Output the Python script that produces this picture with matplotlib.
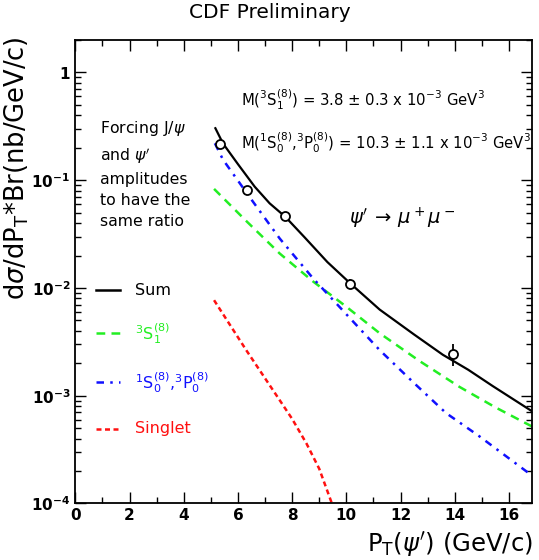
import numpy as np
import matplotlib
matplotlib.use("Agg")
import matplotlib.pyplot as plt
from matplotlib.ticker import FixedLocator, FuncFormatter, LogLocator, NullFormatter

# measured points
pt_data = [5.33, 6.34, 7.75, 10.15, 13.93]
xsec_data = [0.215, 0.081, 0.0465, 0.0109, 0.00244]
err_up = [0.010, 0.004, 0.002, 0.0012, 0.00058]
err_dn = [0.010, 0.004, 0.002, 0.0009, 0.00054]

# theory curves
pt_sum = [5.15, 5.45, 6.0, 6.62, 7.17, 7.75, 8.46, 9.3, 10.15, 11.23, 12.5, 13.56, 14.5, 15.4, 16.88]
xs_sum = [0.31, 0.219, 0.141, 0.087, 0.061, 0.0457, 0.0295, 0.0174, 0.0110, 0.0063, 0.0037, 0.0024, 0.00174, 0.00123, 0.00071]

pt_s1 = [5.12, 6.3, 7.54, 8.77, 10.0, 11.23, 12.7, 14.17, 15.5, 16.84]
xs_s1 = [0.083, 0.042, 0.0209, 0.0115, 0.0067, 0.0038, 0.0021, 0.00121, 0.00078, 0.00052]

pt_s0p0 = [5.15, 5.45, 6.5, 7.54, 8.77, 10.0, 11.23, 12.5, 13.68, 14.91, 16.82]
xs_s0p0 = [0.22, 0.155, 0.066, 0.0288, 0.0123, 0.0057, 0.00265, 0.00131, 0.00069, 0.00042, 0.000184]

pt_singlet = [5.12, 6.31, 7.54, 8.0, 8.53, 9.0, 9.5]
xs_singlet = [0.0077, 0.00264, 0.00091, 0.00061, 0.00036, 0.00021, 0.000095]

fig = plt.figure(figsize=(5.39, 5.6), dpi=100)
ax = fig.add_axes([0.1397, 0.1009, 0.987 - 0.1397, 0.9286 - 0.1009])

ax.plot(pt_sum, xs_sum, color="black", lw=1.6, solid_capstyle="butt")
ax.plot(pt_s1, xs_s1, color="#22ee22", lw=1.8, dashes=(3.5, 2.5))
ax.plot(pt_s0p0, xs_s0p0, color="#1010ff", lw=1.8, dashes=(3, 2.5, 1, 2.5))
ax.plot(pt_singlet, xs_singlet, color="#ff1010", lw=1.8, dashes=(2, 1.4))

ax.errorbar(pt_data, xsec_data, yerr=[err_dn, err_up], fmt="o", mfc="white", mec="black",
            mew=1.3, ms=6.5, ecolor="black", elinewidth=1.3, capsize=0, zorder=5)

ax.set_yscale("log")
ax.set_xlim(0, 16.85)
ax.set_ylim(1e-4, 2)

ax.xaxis.set_major_locator(FixedLocator(np.arange(0, 17, 2)))
ax.xaxis.set_minor_locator(FixedLocator(np.arange(1, 17, 2)))
ax.yaxis.set_major_locator(LogLocator(base=10, numticks=10))
ax.yaxis.set_minor_locator(LogLocator(base=10, subs=np.arange(2, 10), numticks=20))
ax.yaxis.set_minor_formatter(NullFormatter())


def ylab(v, pos):
    e = int(round(np.log10(v)))
    if e == 0:
        return r"$\mathbf{1}$"
    return r"$\mathbf{10^{%d}}$" % e


ax.yaxis.set_major_formatter(FuncFormatter(ylab))
ax.tick_params(which="both", direction="in", top=True, right=True, width=1.0)
ax.tick_params(which="major", length=8, labelsize=11)
ax.tick_params(which="minor", length=4)
for lab in ax.get_xticklabels():
    lab.set_fontweight("bold")
for sp in ax.spines.values():
    sp.set_linewidth(1.3)

fig.text(0.5, 0.978, "CDF Preliminary", ha="center", va="center", fontsize=14.5)
fig.text(0.032, 0.70, r"d$\sigma$/dP$_\mathrm{T}$*Br(nb/GeV/c)", rotation=90, ha="center", va="center",
         fontsize=18.5)
fig.text(0.988, 0.028, r"P$_\mathrm{T}$($\psi'$) (GeV/c)", ha="right", va="center", fontsize=17.5)

ax.text(0.362, 0.872, r"M($^3$S$_1^{(8)}$) = 3.8 $\pm$ 0.3 x 10$^{-3}$ GeV$^3$", transform=ax.transAxes,
        fontsize=10.7, va="center", ha="left", clip_on=False)
ax.text(0.362, 0.778, r"M($^1$S$_0^{(8)}$,$^3$P$_0^{(8)}$) = 10.3 $\pm$ 1.1 x 10$^{-3}$ GeV$^3$",
        transform=ax.transAxes, fontsize=10.7, va="center", ha="left", clip_on=False)
ax.text(0.053, 0.830, "Forcing J/$\\psi$\nand $\\psi'$\namplitudes\nto have the\nsame ratio",
        transform=ax.transAxes, fontsize=11.3, va="top", ha="left", linespacing=1.5)
ax.text(0.60, 0.615, r"$\psi' \,\rightarrow\, \mu^+\mu^-$", transform=ax.transAxes, fontsize=14,
        va="center", ha="left")

# legend drawn by hand
leg = [("Sum", "black", "-", 0.46, "Sum"),
       ("s1", "#22ee22", (0, (3.5, 2.5)), 0.367, r"$^3$S$_1^{(8)}$"),
       ("s0", "#1010ff", (0, (3, 2.5, 1, 2.5)), 0.262, r"$^1$S$_0^{(8)}$,$^3$P$_0^{(8)}$"),
       ("sing", "#ff1010", (0, (2, 1.4)), 0.161, "Singlet")]
for name, col, ls, yy, txt in leg:
    ax.plot([0.045, 0.098], [yy, yy], transform=ax.transAxes, color=col, ls=ls, lw=1.8)
    ax.text(0.13, yy, txt, transform=ax.transAxes, color=col, fontsize=11.5, va="center", ha="left")

fig.savefig("out.png", dpi=100)
